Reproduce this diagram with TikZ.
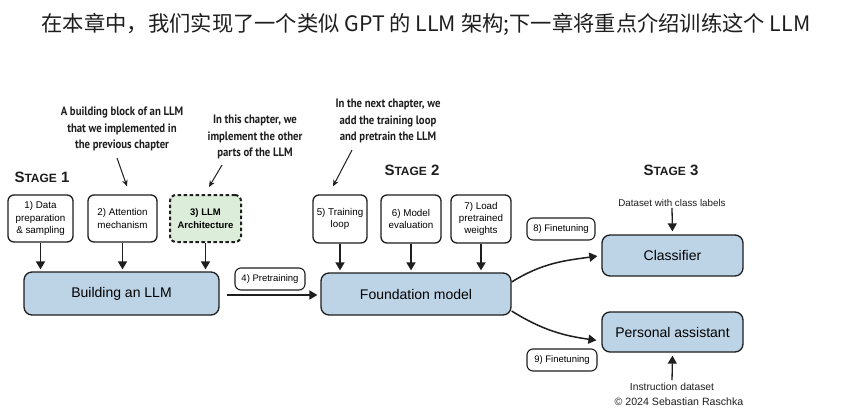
\documentclass[tikz,border=0pt]{standalone}
\usepackage{fontspec}
\setmainfont{Liberation Sans}
\newfontfamily\cjkfont{Noto Sans CJK SC}
\newfontfamily\annfont[FakeStretch=0.88]{PT Sans}
\usetikzlibrary{arrows.meta}
\definecolor{boxblue}{HTML}{BDD4E7}
\definecolor{boxgreen}{HTML}{DCEEDA}
\definecolor{ink}{HTML}{1E1E1E}
\newcommand\stagetxt[1]{{\bfseries\fontsize{15}{15}\selectfont S\fontsize{12}{12}\selectfont TAGE\fontsize{15}{15}\selectfont\ #1}}
\tikzset{
  smallbox/.style={draw=ink, line width=1.3pt, rounded corners=6pt, fill=white, align=center,
     font=\fontsize{9.8}{12.3}\selectfont, inner sep=2pt},
  bigbox/.style={draw=ink, line width=1.3pt, rounded corners=8pt, fill=boxblue, align=center,
     font=\fontsize{14}{16}\selectfont, inner sep=2pt},
  tag/.style={draw=ink, line width=1.1pt, rounded corners=6pt, fill=white,
     font=\fontsize{9.5}{11}\selectfont, inner sep=2pt, minimum height=22pt},
  ann/.style={align=center, font=\annfont\bfseries\fontsize{12.2}{16.5}\selectfont, text=ink},
  plain/.style={font=\fontsize{9.8}{12}\selectfont, text=ink, inner sep=1pt},
  arr/.style={draw=ink, line width=1.7pt, -{Triangle[length=8pt,width=9pt]}},
  thinarr/.style={draw=ink, line width=1pt, -{Stealth[length=6.5pt,width=5.5pt]}},
}
\begin{document}
\begin{tikzpicture}[x=1pt,y=-1pt]
\useasboundingbox (0,0) rectangle (852,420);
\fill[white] (0,0) rectangle (852,420);

% title
\node[font=\cjkfont\fontsize{21.3}{23}\selectfont, text=ink] (title) at (426,24)
  {在本章中，我们实现了一个类似 GPT 的 LLM 架构;下一章将重点介绍训练这个 LLM};

% stage labels
\node[text=ink] (st1) at (42,177) {\stagetxt{1}};
\node[text=ink] (st2) at (412,170) {\stagetxt{2}};
\node[text=ink] (st3) at (671,170) {\stagetxt{3}};

% stage 1 boxes
\node[smallbox, minimum width=65pt, minimum height=47pt] (b1) at (40.5,218.5) {1) Data\\preparation\\\& sampling};
\node[smallbox, minimum width=69pt, minimum height=47pt] (b2) at (122.5,218.5) {2) Attention\\mechanism};
\node[smallbox, minimum width=71pt, minimum height=47pt, fill=boxgreen, line width=2pt,
      dash pattern=on 3.5pt off 2.5pt, font=\bfseries\fontsize{9.5}{12.3}\selectfont] (b3) at (205.5,218.5) {3) LLM\\Architecture};
\node[bigbox, minimum width=195pt, minimum height=43pt] (build) at (121.5,293.5) {Building an LLM};

\draw[arr, shorten >=2pt] (b1.south) -- (b1.south |- build.north);
\draw[arr, shorten >=2pt] (b2.south) -- (b2.south |- build.north);
\draw[arr, shorten >=2pt] (b3.south) -- (b3.south |- build.north);

% stage 2
\node[smallbox, minimum width=54pt, minimum height=48pt] (b5) at (340,219) {5) Training\\loop};
\node[smallbox, minimum width=60pt, minimum height=48pt] (b6) at (411,219) {6) Model\\evaluation};
\node[smallbox, minimum width=60pt, minimum height=48pt] (b7) at (481,219) {7) Load\\pretrained\\weights};
\node[bigbox, minimum width=190pt, minimum height=42pt] (found) at (416,294) {Foundation model};

\draw[arr, shorten >=2pt] (b5.south) -- (b5.south |- found.north);
\draw[arr, shorten >=2pt] (b6.south) -- (b6.south |- found.north);
\draw[arr, shorten >=2pt] (b7.south) -- (b7.south |- found.north);

\node[tag, minimum width=70pt] (t4) at (270,279) {4) Pretraining};
\draw[arr, shorten <=7pt, shorten >=3pt] ([yshift=-1.5pt]build.east) -- ([yshift=-1.5pt]build.east -| found.west);

% stage 3
\node[bigbox, minimum width=141pt, minimum height=41pt] (cls) at (672.5,255.5) {Classifier};
\node[bigbox, minimum width=141pt, minimum height=40pt] (pa) at (672.5,332) {Personal assistant};

\node[tag, minimum width=68pt] (t8) at (561,229) {8) Finetuning};
\node[tag, minimum width=70pt] (t9) at (562,360) {9) Finetuning};

\draw[arr, line width=1.5pt, shorten >=4pt] ([yshift=12pt]found.east) to[out=32,in=188] (cls.west);
\draw[arr, line width=1.5pt, shorten >=5pt] ([yshift=-17pt]found.east) to[out=-32,in=172] ([yshift=-9pt]pa.west);

\node[plain] (ds1) at (672,203) {Dataset with class labels};
\draw[arr, line width=1.3pt, shorten >=3pt] (ds1.south) -- (cls.north);
\node[plain, font=\fontsize{10.3}{12}\selectfont] (ds2) at (672,387) {Instruction dataset};
\draw[arr, line width=1.3pt, shorten >=3pt, shorten <=2pt] (ds2.north) -- (pa.south);
\node[plain, font=\fontsize{10.6}{12}\selectfont] (copy) at (679,402) {© 2024 Sebastian Raschka};

% annotations
\node[ann] (a1) at (122,129) {A building block of an LLM\\that we implemented in\\the previous chapter};
\coordinate (a1s) at (117,158);
\draw[thinarr] (a1s) -- ([xshift=4.5pt,yshift=8pt]b2.north);

\node[ann] (a2) at (255,137) {In this chapter, we\\implement the other\\parts of the LLM};
\coordinate (a2s) at (222,165);
\draw[thinarr] (a2s) -- ([xshift=3.5pt,yshift=7pt]b3.north);

\node[ann] (a3) at (388,121) {In the next chapter, we\\add the training loop\\and pretrain the LLM};
\coordinate (a3s) at (352,150);
\draw[thinarr] (a3s) -- ([xshift=-7pt,yshift=8pt]b5.north);
\end{tikzpicture}
\end{document}
